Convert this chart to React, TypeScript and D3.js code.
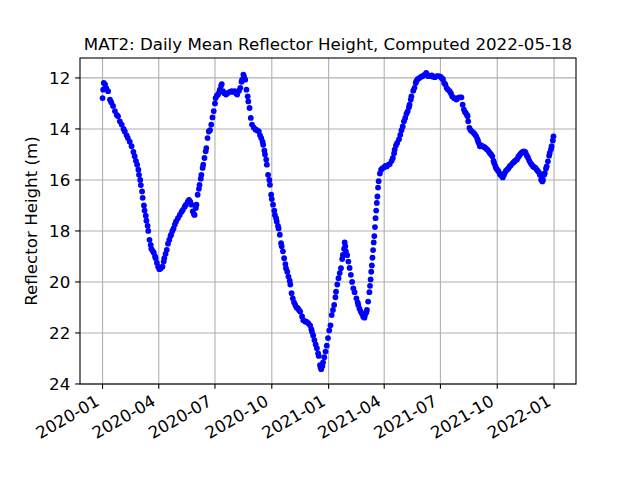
import React from "react";
import * as d3 from "d3";

const chartTitle = "MAT2: Daily Mean Reflector Height, Computed 2022-05-18";
const yAxisLabel = "Reflector Height (m)";
const seriesStart = "2020-01-01";

// days since seriesStart
const dayIndex = [
  0, 1, 2, 4, 6, 9, 12, 14, 17, 20,
  23, 25, 28, 31, 34, 36, 39, 41, 44, 47,
  50, 52, 54, 56, 58, 59, 61, 62, 64, 65,
  67, 68, 70, 71, 73, 74, 76, 78, 79, 81,
  83, 85, 86, 88, 90, 92, 94, 97, 99, 100,
  102, 104, 106, 108, 110, 111, 113, 115, 117, 119,
  122, 125, 128, 130, 133, 135, 138, 140, 142, 144,
  146, 148, 149, 151, 152, 154, 156, 157, 159, 160,
  162, 163, 165, 167, 168, 170, 172, 174, 176, 178,
  180, 182, 183, 185, 187, 189, 190, 192, 193, 195,
  197, 200, 203, 206, 209, 212, 214, 216, 218, 221,
  223, 225, 226, 228, 229, 231, 233, 235, 236, 238,
  240, 242, 245, 248, 250, 253, 255, 257, 259, 260,
  262, 263, 265, 266, 268, 270, 271, 273, 274, 276,
  278, 279, 281, 282, 284, 285, 287, 289, 290, 292,
  294, 296, 297, 299, 301, 303, 304, 306, 308, 310,
  312, 314, 316, 318, 320, 323, 325, 328, 330, 333,
  336, 338, 339, 341, 343, 345, 347, 349, 350, 352,
  353, 354, 356, 357, 359, 361, 363, 365, 367, 369,
  371, 373, 375, 377, 378, 380, 382, 384, 386, 388,
  389, 391, 392, 393, 394, 396, 398, 400, 402, 404,
  406, 408, 411, 413, 414, 416, 418, 420, 422, 424,
  425, 427, 428, 430, 432, 433, 434, 435, 436, 437,
  438, 439, 440, 441, 442, 443, 444, 445, 446, 447,
  449, 451, 453, 456, 458, 460, 463, 465, 468, 470,
  472, 473, 475, 477, 480, 482, 484, 486, 488, 490,
  492, 494, 496, 497, 499, 500, 503, 505, 507, 508,
  510, 513, 516, 518, 521, 524, 526, 527, 530, 533,
  535, 538, 541, 544, 547, 549, 551, 553, 555, 557,
  559, 562, 564, 566, 569, 571, 573, 576, 578, 581,
  583, 585, 587, 588, 590, 591, 592, 594, 596, 598,
  601, 603, 605, 607, 608, 610, 611, 613, 615, 617,
  619, 621, 623, 625, 627, 629, 631, 633, 634, 636,
  637, 639, 641, 643, 644, 646, 648, 650, 651, 653,
  655, 657, 659, 661, 664, 666, 667, 669, 671, 673,
  674, 676, 678, 680, 682, 684, 685, 687, 689, 691,
  693, 695, 697, 699, 701, 703, 705, 707, 708, 710,
  712, 713, 715, 716, 718, 719, 721, 723, 724, 726,
  727, 729, 730,
];

// reflector height in metres
const heightM = [
  12.79, 12.46, 12.2, 12.25, 12.4, 12.52, 12.85, 12.95, 13.1, 13.3,
  13.45, 13.5, 13.7, 13.83, 14.0, 14.1, 14.25, 14.36, 14.5, 14.68,
  14.9, 15.07, 15.25, 15.4, 15.6, 15.8, 16.0, 16.2, 16.45, 16.7,
  17.0, 17.2, 17.4, 17.6, 17.8, 18.0, 18.35, 18.55, 18.7, 18.78,
  18.85, 19.0, 19.07, 19.25, 19.4, 19.5, 19.47, 19.4, 19.2, 19.07,
  18.9, 18.74, 18.5, 18.35, 18.2, 18.15, 18.0, 17.9, 17.75, 17.63,
  17.5, 17.37, 17.25, 17.17, 17.05, 16.97, 16.85, 16.78, 16.85, 16.97,
  17.23, 17.35, 17.37, 17.1, 16.97, 16.58, 16.35, 16.19, 15.95, 15.8,
  15.53, 15.4, 15.14, 14.88, 14.75, 14.36, 14.1, 14.05, 13.83, 13.55,
  13.3, 13.0, 12.79, 12.7, 12.65, 12.55, 12.46, 12.3, 12.24, 12.52,
  12.6, 12.65, 12.59, 12.55, 12.52, 12.55, 12.52, 12.6, 12.65, 12.5,
  12.39, 12.15, 12.07, 11.87, 11.95, 12.07, 12.46, 12.72, 12.92, 13.18,
  13.57, 13.83, 13.95, 14.03, 14.05, 14.1, 14.25, 14.36, 14.5, 14.62,
  14.85, 15.0, 15.2, 15.4, 15.8, 16.0, 16.19, 16.58, 16.75, 16.97,
  17.2, 17.37, 17.5, 17.63, 17.8, 17.9, 18.15, 18.48, 18.6, 18.8,
  19.07, 19.3, 19.46, 19.6, 19.79, 19.95, 20.1, 20.44, 20.64, 20.8,
  20.9, 21.0, 21.03, 21.1, 21.16, 21.35, 21.5, 21.55, 21.56, 21.62,
  21.7, 21.85, 21.95, 22.1, 22.28, 22.45, 22.6, 22.8, 22.9, 23.26,
  23.35, 23.42, 23.3, 23.15, 22.95, 22.73, 22.5, 22.2, 21.9, 21.7,
  21.3, 21.1, 20.9, 20.6, 20.38, 20.1, 19.85, 19.65, 19.46, 19.1,
  18.94, 18.7, 18.45, 18.6, 18.8, 18.95, 19.2, 19.45, 19.72, 20.0,
  20.25, 20.4, 20.64, 20.8, 20.9, 21.05, 21.16, 21.25, 21.36, 21.4,
  21.3, 21.2, 21.1, 20.77, 20.4, 20.15, 19.9, 19.6, 19.35, 19.05,
  18.75, 18.45, 18.2, 17.85, 17.5, 17.2, 16.9, 16.65, 16.3, 16.05,
  15.75, 15.6, 15.55, 15.5, 15.45, 15.47, 15.4, 15.38, 15.25, 15.14,
  14.95, 14.81, 14.65, 14.55, 14.4, 14.23, 14.05, 13.9, 13.7, 13.57,
  13.4, 13.31, 13.15, 13.05, 12.85, 12.72, 12.5, 12.39, 12.2, 12.13,
  12.05, 12.0, 11.95, 11.93, 11.88, 11.8, 11.88, 11.93, 11.92, 11.9,
  11.95, 11.97, 11.93, 11.93, 11.95, 12.0, 12.05, 12.2, 12.25, 12.39,
  12.45, 12.52, 12.6, 12.72, 12.79, 12.8, 12.85, 12.78, 12.76, 12.76,
  13.05, 13.24, 13.35, 13.37, 13.45, 13.5, 13.7, 13.96, 14.05, 14.1,
  14.16, 14.22, 14.29, 14.4, 14.49, 14.6, 14.68, 14.65, 14.68, 14.7,
  14.72, 14.78, 14.81, 14.88, 14.94, 15.0, 15.07, 15.25, 15.34, 15.45,
  15.53, 15.6, 15.66, 15.75, 15.8, 15.85, 15.9, 15.8, 15.73, 15.65,
  15.6, 15.55, 15.47, 15.42, 15.34, 15.3, 15.27, 15.22, 15.2, 15.1,
  15.07, 15.0, 14.94, 14.9, 14.88, 14.9, 14.94, 15.05, 15.14, 15.25,
  15.34, 15.4, 15.47, 15.5, 15.53, 15.6, 15.66, 15.72, 15.8, 15.99,
  16.06, 16.0, 15.8, 15.73, 15.55, 15.47, 15.27, 15.05, 14.94, 14.8,
  14.68, 14.45, 14.29,
];

const yTickValues = [12, 14, 16, 18, 20, 22, 24];

const W = 640;
const H = 480;
const M = { left: 80, right: 576, top: 58, bottom: 384 };
const FONT = "DejaVu Sans, sans-serif";

export default function App() {
  const base = d3.utcParse("%Y-%m-%d")(seriesStart) as Date;
  const points = dayIndex.map((d, i) => ({
    date: d3.utcDay.offset(base, d),
    h: heightM[i],
  }));
  const first = points[0].date;
  const last = points[points.length - 1].date;
  const span = +last - +first;
  const x = d3
    .scaleUtc()
    .domain([new Date(+first - span * 0.05), new Date(+last + span * 0.05)])
    .range([M.left, M.right]);
  const [hMin, hMax] = d3.extent(heightM) as [number, number];
  const hPad = (hMax - hMin) * 0.05;
  const y = d3
    .scaleLinear()
    .domain([hMin - hPad, hMax + hPad])
    .range([M.top, M.bottom]);

  const xTicks = x.ticks(d3.utcMonth.every(3) as any);
  const fmt = d3.utcFormat("%Y-%m");
  const tickLen = 4.86;
  const pad = 4.86;
  const fs = 16.67;

  return (
    <svg
      width={W}
      height={H}
      style={{ position: "absolute", left: 0, top: 0, background: "#fff" }}
      fontFamily={FONT}
    >
      <rect x={0} y={0} width={W} height={H} fill="#fff" />
      {/* grid */}
      <g stroke="#b0b0b0" strokeWidth={1.1}>
        {xTicks.map((t, i) => (
          <line key={"gx" + i} x1={x(t)} x2={x(t)} y1={M.top} y2={M.bottom} />
        ))}
        {yTickValues.map((t, i) => (
          <line key={"gy" + i} x1={M.left} x2={M.right} y1={y(t)} y2={y(t)} />
        ))}
      </g>
      {/* points */}
      <g fill="#0000ff">
        {points.map((p, i) => (
          <circle key={i} cx={x(p.date)} cy={y(p.h)} r={2.9} />
        ))}
      </g>
      {/* frame */}
      <rect
        x={M.left}
        y={M.top}
        width={M.right - M.left}
        height={M.bottom - M.top}
        fill="none"
        stroke="#000"
        strokeWidth={1.1}
      />
      {/* x ticks */}
      {xTicks.map((t, i) => {
        const tx = x(t);
        const ay = M.bottom + tickLen + pad + 0.866 * 12.5;
        const ax = tx - 2;
        return (
          <g key={"xt" + i}>
            <line x1={tx} x2={tx} y1={M.bottom} y2={M.bottom + tickLen} stroke="#000" strokeWidth={1.1} />
            <text
              x={ax}
              y={ay}
              fontSize={fs}
              textAnchor="end"
              transform={`rotate(-30, ${ax}, ${ay})`}
              fill="#000"
            >
              {fmt(t)}
            </text>
          </g>
        );
      })}
      {/* y ticks */}
      {yTickValues.map((t, i) => (
        <g key={"yt" + i}>
          <line x1={M.left - tickLen} x2={M.left} y1={y(t)} y2={y(t)} stroke="#000" strokeWidth={1.1} />
          <text
            x={M.left - tickLen - pad}
            y={y(t)}
            dy="0.36em"
            fontSize={fs}
            textAnchor="end"
            fill="#000"
          >
            {t}
          </text>
        </g>
      ))}
      <text
        x={(M.left + M.right) / 2}
        y={M.top - 8.3}
        fontSize={fs}
        textAnchor="middle"
        fill="#000"
      >
        {chartTitle}
      </text>
      <text
        transform={`translate(37, ${(M.top + M.bottom) / 2}) rotate(-90)`}
        fontSize={fs}
        textAnchor="middle"
        fill="#000"
      >
        {yAxisLabel}
      </text>
    </svg>
  );
}
